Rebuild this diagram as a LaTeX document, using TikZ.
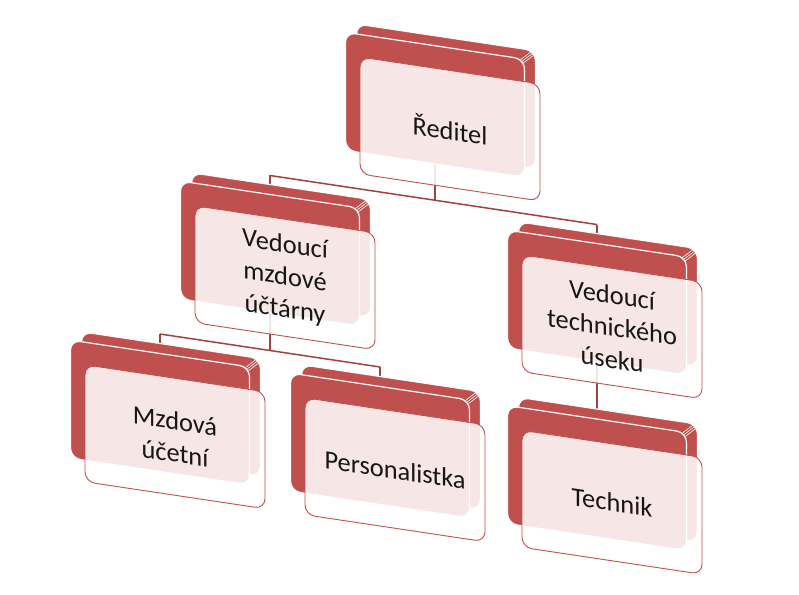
\documentclass[tikz,border=0pt]{standalone}
\usepackage{fontspec}
\setmainfont{Carlito}
\usetikzlibrary{backgrounds}
\definecolor{slabred}{HTML}{C0504D}
\definecolor{linkred}{HTML}{A3403D}
\definecolor{txtcol}{HTML}{161616}
\tikzset{
  slab/.style={rectangle, rounded corners=10bp, fill=slabred, draw=white,
    line width=1.2bp, minimum width=179bp, minimum height=118bp,
    inner sep=0pt, transform shape},
  card/.style={rectangle, rounded corners=10bp, fill=white, fill opacity=0.86,
    text opacity=1, draw=slabred, line width=0.9bp, minimum width=180bp,
    minimum height=117bp, inner sep=0pt, align=center,
    font=\fontsize{26.5}{32.5}\selectfont, text=txtcol, transform shape},
  link/.style={draw=linkred, line width=1.5bp},
  hatch/.style={draw=white, line width=0.6bp},
}
\newcommand\orgbox[4]{%
  \node[slab] (#1-b2) at (#2-4,#3-32) {};
  \draw[hatch] (#2-15+86.6+1.4,#3-22-56.1+1.5) -- ++(11,-10);
  \draw[hatch] (#2-15+86.6,#3-22-56.1) -- ++(11,-10);
  \draw[hatch] (#2-15+86.6-1.4,#3-22-56.1-1.5) -- ++(11,-10);
  \node[slab] (#1-b1) at (#2-15,#3-22) {};
  \node[card] (#1) at (#2,#3) {#4};
}
\begin{document}
\begin{tikzpicture}[x=1bp,y=-1bp]
\useasboundingbox (0,0) rectangle (799,595);
\begin{scope}[cm={1,-0.15,0,1,(0,0)}, transform shape]
  \orgbox{r}{450}{61.5}{Ředitel}
  \orgbox{vm}{285}{235}{Vedoucí\\mzdové\\účtárny}
  \orgbox{vt}{612}{235}{Vedoucí\\technického\\úseku}
  \orgbox{md}{175}{410.5}{Mzdová\\účetní}
  \orgbox{pe}{395}{410.5}{Personalistka}
  \orgbox{te}{612}{410.5}{Technik}
  \coordinate (j1) at (435,135);
  \coordinate (j1a) at (270,135);
  \coordinate (j1b) at (597,135);
  \coordinate (j2) at (270,310);
  \coordinate (j2a) at (160,310);
  \coordinate (j2b) at (380,310);
  \begin{scope}[on background layer]
    \draw[link] (r-b1.center) -- (j1);
    \draw[link] (j1a) -- (j1b);
    \draw[link] (j1a) -- (vm-b1.center);
    \draw[link] (j1b) -- (vt-b1.center);
    \draw[link] (vm-b1.center) -- (j2);
    \draw[link] (j2a) -- (j2b);
    \draw[link] (j2a) -- (md-b1.center);
    \draw[link] (j2b) -- (pe-b1.center);
    \draw[link] (vt-b1.center) -- (te-b1.center);
  \end{scope}
\end{scope}
\end{tikzpicture}
\end{document}
